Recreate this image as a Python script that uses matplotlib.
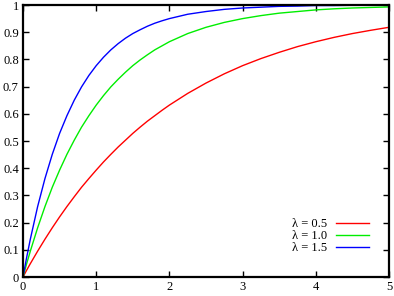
import matplotlib
matplotlib.use("Agg")
import matplotlib.pyplot as plt

plt.rcParams['font.family'] = ['Liberation Serif', 'DejaVu Serif']

# x positions where the curves were read
x = [0, 0.05, 0.1, 0.2, 0.3, 0.4, 0.5, 0.6, 0.7, 0.8, 0.9, 1.0,
     1.1, 1.2, 1.3, 1.4, 1.5, 1.6, 1.7, 1.8, 1.9, 2.0,
     2.25, 2.5, 2.75, 3.0, 3.25, 3.5, 3.75, 4.0, 4.25, 4.5, 4.75, 5.0]

y_05 = [0, 0.025, 0.049, 0.095, 0.139, 0.181, 0.221, 0.259, 0.295, 0.330, 0.362, 0.393,
        0.423, 0.451, 0.478, 0.503, 0.528, 0.551, 0.573, 0.593, 0.613, 0.632,
        0.675, 0.713, 0.747, 0.777, 0.803, 0.826, 0.847, 0.865, 0.881, 0.895, 0.907, 0.918]
y_10 = [0, 0.049, 0.095, 0.181, 0.259, 0.330, 0.393, 0.451, 0.503, 0.551, 0.593, 0.632,
        0.667, 0.699, 0.727, 0.753, 0.777, 0.798, 0.817, 0.835, 0.850, 0.865,
        0.895, 0.918, 0.936, 0.950, 0.961, 0.970, 0.976, 0.982, 0.986, 0.989, 0.991, 0.993]
y_15 = [0, 0.072, 0.139, 0.259, 0.362, 0.451, 0.528, 0.593, 0.650, 0.699, 0.741, 0.777,
        0.808, 0.835, 0.858, 0.878, 0.895, 0.909, 0.922, 0.933, 0.942, 0.950,
        0.966, 0.976, 0.984, 0.989, 0.992, 0.995, 0.996, 0.998, 0.998, 0.999, 0.999, 0.999]

labels = ['λ = 0.5', 'λ = 1.0', 'λ = 1.5']
colors = ['#ff0000', '#00ee00', '#0000ff']

fig = plt.figure(figsize=(3.94, 2.96), dpi=100)
ax = fig.add_axes([23 / 394, 19 / 296, 366 / 394, 272 / 296])

for ys, lab, c in zip([y_05, y_10, y_15], labels, colors):
    ax.plot(x, ys, color=c, lw=1.0, label=lab)

ax.set_xlim(0, 5)
ax.set_ylim(0, 1)
ax.set_xticks([0, 1, 2, 3, 4, 5])
ax.set_xticklabels(['0', '1', '2', '3', '4', '5'])
yt = [i / 10 for i in range(11)]
ax.set_yticks(yt)
ax.set_yticklabels(['0', '0.1', '0.2', '0.3', '0.4', '0.5', '0.6', '0.7', '0.8', '0.9', '1'])
ax.tick_params(direction='in', top=True, right=True, length=4, width=1,
               labelsize=9, pad=3)
for s in ax.spines.values():
    s.set_linewidth(1.6)

leg = ax.legend(loc='lower right', bbox_to_anchor=(0.975, 0.043), frameon=False,
                fontsize=9, markerfirst=False, handlelength=2.6,
                labelspacing=0.0, handletextpad=0.7)
for t in leg.get_texts():
    t.set_ha('right')

fig.savefig('out.png', dpi=100)
